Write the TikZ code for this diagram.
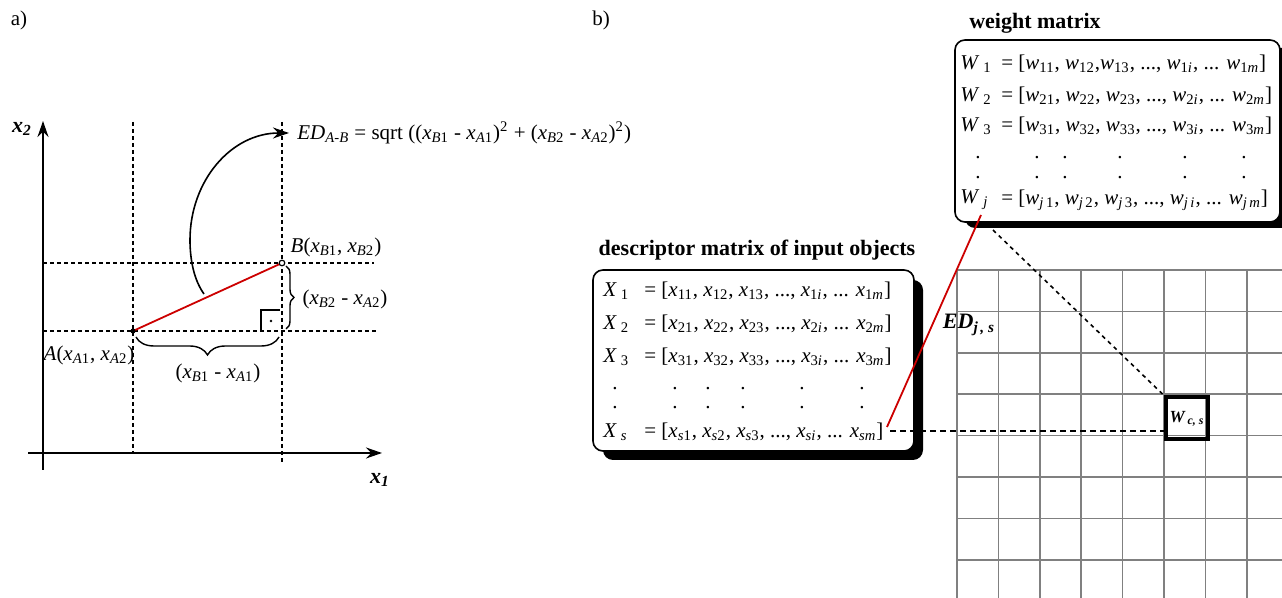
\documentclass[tikz,border=0pt]{standalone}
\usepackage{fontspec}
\setmainfont{Liberation Serif}
\usetikzlibrary{decorations.pathreplacing,arrows.meta}
\newcommand\sx[2]{\textit{#1}\textsubscript{#2}}
\begin{document}
\begin{tikzpicture}[x=0.5pt,y=-0.5pt,
  font=\fontsize{10.5}{12}\selectfont,
  dsh/.style={dash pattern=on 2pt off 1.5pt, line width=0.7pt},
  axisline/.style={line width=1pt,-{Stealth[length=8pt,width=5.5pt]}},
  gridline/.style={black!50, line width=0.75pt},
  rowtxt/.style={anchor=west, inner sep=0pt},
  mbox/.style={draw, line width=0.8pt, rounded corners=5pt, fill=white},
  mshadow/.style={fill=black, rounded corners=5pt},
  ttl/.style={font=\fontsize{11}{13}\selectfont\bfseries, inner sep=0pt},
  mdot/.style={inner sep=0pt, font=\fontsize{10.5}{12}\selectfont},
  lbl/.style={inner sep=0pt}
]
\clip (0,0) rectangle (1282,598);

% ---------------- panel a ----------------
\node[lbl] (pa) at (19,20) {a)};
\coordinate (xo) at (28,453);
\coordinate (xe) at (382,453);
\coordinate (yo) at (43,470);
\coordinate (ye) at (43,121);
\draw[axisline] (xo) -- (xe);
\draw[axisline] (yo) -- (ye);
\node[lbl, font=\fontsize{11}{13}\selectfont\bfseries\itshape] (lx2) at (22,129) {x\textsubscript{2}};
\node[lbl, font=\fontsize{11}{13}\selectfont\bfseries\itshape] (lx1) at (380,480) {x\textsubscript{1}};

\coordinate (A) at (133,331);
\coordinate (B) at (282,263);
\coordinate (v1t) at (133,122);
\coordinate (v1b) at (133,452);
\coordinate (v2t) at (282,122);
\coordinate (v2b) at (282,463);
\coordinate (h1l) at (43,263);
\coordinate (h1r) at (374,263);
\coordinate (h2l) at (43,331);
\coordinate (h2r) at (376,331);
\draw[dsh] (v1t) -- (v1b);
\draw[dsh] (v2t) -- (v2b);
\draw[dsh] (h1l) -- (h1r);
\draw[dsh] (h2l) -- (h2r);

\draw[red!80!black, line width=0.9pt] (A) -- (B);
\fill (A) circle (2.6);
\draw[line width=0.6pt, fill=white] (B) circle (2.8);

% right angle
\coordinate (ra1) at (261,331);
\coordinate (ra2) at (261,310);
\coordinate (ra3) at (280,310);
\draw[line width=0.7pt] (ra1) -- (ra2) -- (ra3);
\fill (271,321) circle (1.3);

% braces
\coordinate (bb1) at (279,337);
\coordinate (bb2) at (136,337);
\draw[line width=0.7pt, decorate, decoration={brace, amplitude=9pt}] (bb1) -- (bb2);
\coordinate (rb1) at (286,266);
\coordinate (rb2) at (286,329);
\draw[line width=0.7pt, decorate, decoration={brace, amplitude=4pt}] (rb1) -- (rb2);

\node[lbl] (lA) at (89,355) {\textit{A}(\sx{x}{\textit{A}1}, \sx{x}{\textit{A}2})};
\node[lbl] (lB) at (336,247) {\textit{B}(\sx{x}{\textit{B}1}, \sx{x}{\textit{B}2})};
\node[lbl] (ldx) at (218,373) {(\sx{x}{\textit{B}1} - \sx{x}{\textit{A}1})};
\node[lbl] (ldy) at (345,299) {(\sx{x}{\textit{B}2} - \sx{x}{\textit{A}2})};

\node[lbl, anchor=west] (formula) at (297,133) {\textit{ED}\textsubscript{\textit{A-B}} = sqrt ((\sx{x}{\textit{B}1} - \sx{x}{\textit{A}1})\textsuperscript{2} + (\sx{x}{\textit{B}2} - \sx{x}{\textit{A}2})\textsuperscript{2})};
\coordinate (arcstart) at (204,294);
\coordinate (arcend) at (289,133);
\draw[line width=0.8pt, -{Stealth[length=8pt,width=5.5pt]}] (arcstart) .. controls (194,280) and (190,260) .. (190,240)
   .. controls (190,181) and (231,133) .. (arcend);

% ---------------- panel b ----------------
\node[lbl] (pb) at (601,20) {b)};

% grid
\foreach \gx in {957,998.4,1039.8,1081.2,1122.6,1164,1205.4,1246.8}
  \draw[gridline] (\gx,270) -- (\gx,600);
\foreach \gy in {270,311.4,352.8,394.2,435.6,477,518.4,559.8}
  \draw[gridline] (957,\gy) -- (1290,\gy);

% weight matrix box
\node[ttl] (wt) at (1035,23) {weight matrix};
\fill[mshadow] (965,48) rectangle (1295,228);
\draw[mbox] (955,40) rectangle (1280,222);
\node[rowtxt] (w1l) at (960,64) {\textit{W}\hspace{2pt}\textsubscript{1}};
\node[rowtxt] (w1r) at (1001,64) {= [\sx{w}{11}, \sx{w}{12},\sx{w}{13}, ..., \sx{w}{1\textit{i}}, ... \sx{w}{1\textit{m}}]};
\node[rowtxt] (w2l) at (960,96) {\textit{W}\hspace{2pt}\textsubscript{2}};
\node[rowtxt] (w2r) at (1001,96) {= [\sx{w}{21}, \sx{w}{22}, \sx{w}{23}, ..., \sx{w}{2\textit{i}}, ... \sx{w}{2\textit{m}}]};
\node[rowtxt] (w3l) at (960,126) {\textit{W}\hspace{2pt}\textsubscript{3}};
\node[rowtxt] (w3r) at (1001,126) {= [\sx{w}{31}, \sx{w}{32}, \sx{w}{33}, ..., \sx{w}{3\textit{i}}, ... \sx{w}{3\textit{m}}]};
\foreach \dx [count=\k] in {978,1037,1065,1120,1185,1244}{
  \node[mdot] (wda\k) at (\dx,158) {.};
  \node[mdot] (wdb\k) at (\dx,178) {.};
}
\node[rowtxt] (wjl) at (960,200) {\textit{W}\hspace{2pt}\textsubscript{\textit{j}}};
\node[rowtxt] (wjr) at (1001,200) {= [\sx{w}{\textit{j}\,1}, \sx{w}{\textit{j}\,2}, \sx{w}{\textit{j}\,3}, ..., \sx{w}{\textit{j}\,\textit{i}}, ... \sx{w}{\textit{j}\,\textit{m}}]};

% descriptor box
\node[ttl] (dt) at (757,250) {descriptor matrix of input objects};
\fill[mshadow] (603,280) rectangle (923,460);
\draw[mbox] (593,270) rectangle (914,451);
\node[rowtxt] (x1l) at (603,291) {\textit{X}\hspace{2pt}\textsubscript{1}};
\node[rowtxt] (x1r) at (644,291) {= [\sx{x}{11}, \sx{x}{12}, \sx{x}{13}, ..., \sx{x}{1\textit{i}}, ... \sx{x}{1\textit{m}}]};
\node[rowtxt] (x2l) at (603,324) {\textit{X}\hspace{2pt}\textsubscript{2}};
\node[rowtxt] (x2r) at (644,324) {= [\sx{x}{21}, \sx{x}{22}, \sx{x}{23}, ..., \sx{x}{2\textit{i}}, ... \sx{x}{2\textit{m}}]};
\node[rowtxt] (x3l) at (603,357) {\textit{X}\hspace{2pt}\textsubscript{3}};
\node[rowtxt] (x3r) at (644,357) {= [\sx{x}{31}, \sx{x}{32}, \sx{x}{33}, ..., \sx{x}{3\textit{i}}, ... \sx{x}{3\textit{m}}]};
\foreach \dx [count=\k] in {615,675,708,743,802,862}{
  \node[mdot] (xda\k) at (\dx,389) {.};
  \node[mdot] (xdb\k) at (\dx,408) {.};
}
\node[rowtxt] (xsl) at (603,432) {\textit{X}\hspace{2pt}\textsubscript{\textit{s}}};
\node[rowtxt] (xsr) at (644,432) {= [\sx{x}{\textit{s}1}, \sx{x}{\textit{s}2}, \sx{x}{\textit{s}3}, ..., \sx{x}{\textit{si}}, ... \sx{x}{\textit{sm}}]};

% winner cell
\node[draw, line width=2pt, minimum size=21pt, inner sep=0pt, anchor=north west] (wcs) at (1164,395.5) {};
\node[lbl, font=\fontsize{8.5}{10}\selectfont\bfseries\itshape] (wcslbl) at (wcs.center) {W\,\textsubscript{c, s}};

% connectors
\coordinate (redlo) at (887,427);
\coordinate (redhi) at (981,215);
\draw[red!80!black, line width=0.9pt] (redlo) -- (redhi);
\coordinate (hdstart) at (890,431);
\draw[dash pattern=on 3pt off 2pt, line width=0.7pt] (hdstart) -- (wcs.west |- hdstart);
\coordinate (ddstart) at (993,230);
\draw[dash pattern=on 2pt off 2pt, line width=0.8pt] (ddstart) -- (wcs.north west);

\node[lbl, font=\fontsize{11}{13}\selectfont\bfseries\itshape] (edjs) at (969,325) {ED\textsubscript{j\,, s}};
\end{tikzpicture}
\end{document}
